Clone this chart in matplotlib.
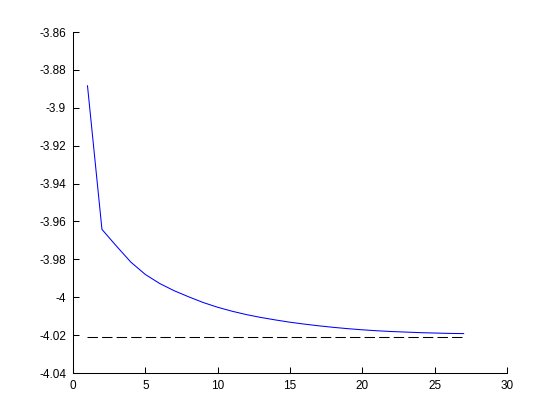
import matplotlib
matplotlib.use('Agg')
import matplotlib.pyplot as plt

iters = list(range(1, 28))
values = [-3.8884, -3.9642, -3.9730, -3.9815, -3.9880, -3.9928, -3.9966,
          -3.9998, -4.0028, -4.0053, -4.0074, -4.0092, -4.0107, -4.0120,
          -4.0132, -4.0142, -4.0151, -4.0159, -4.0166, -4.0172, -4.0177,
          -4.0181, -4.0184, -4.0187, -4.0189, -4.0191, -4.0192]
target = -4.0212

xticks = [0, 5, 10, 15, 20, 25, 30]
yticks = [-4.04, -4.02, -4, -3.98, -3.96, -3.94, -3.92, -3.9, -3.88, -3.86]
ylabels = ['-4.04', '-4.02', '-4', '-3.98', '-3.96', '-3.94', '-3.92',
           '-3.9', '-3.88', '-3.86']

plt.rcParams['font.family'] = ['Liberation Sans', 'DejaVu Sans']

fig = plt.figure(figsize=(5.6, 4.2), dpi=100)
ax = fig.add_axes([0.1304, 0.1119, 0.7750, 0.8119])

ax.plot(iters, values, color='blue', lw=0.75)
ax.plot([iters[0], iters[-1]], [target, target], color='black', lw=0.75,
        dashes=(10, 4))

ax.set_xlim(0, 30)
ax.set_ylim(-4.04, -3.86)
ax.set_xticks(xticks)
ax.set_xticklabels([str(t) for t in xticks])
ax.set_yticks(yticks)
ax.set_yticklabels(ylabels)
ax.tick_params(direction='in', length=4, width=0.75, labelsize=8.5, pad=5)
for s in ['top', 'right']:
    ax.spines[s].set_visible(False)
for s in ['left', 'bottom']:
    ax.spines[s].set_linewidth(0.75)

fig.savefig('out.png', dpi=100)
